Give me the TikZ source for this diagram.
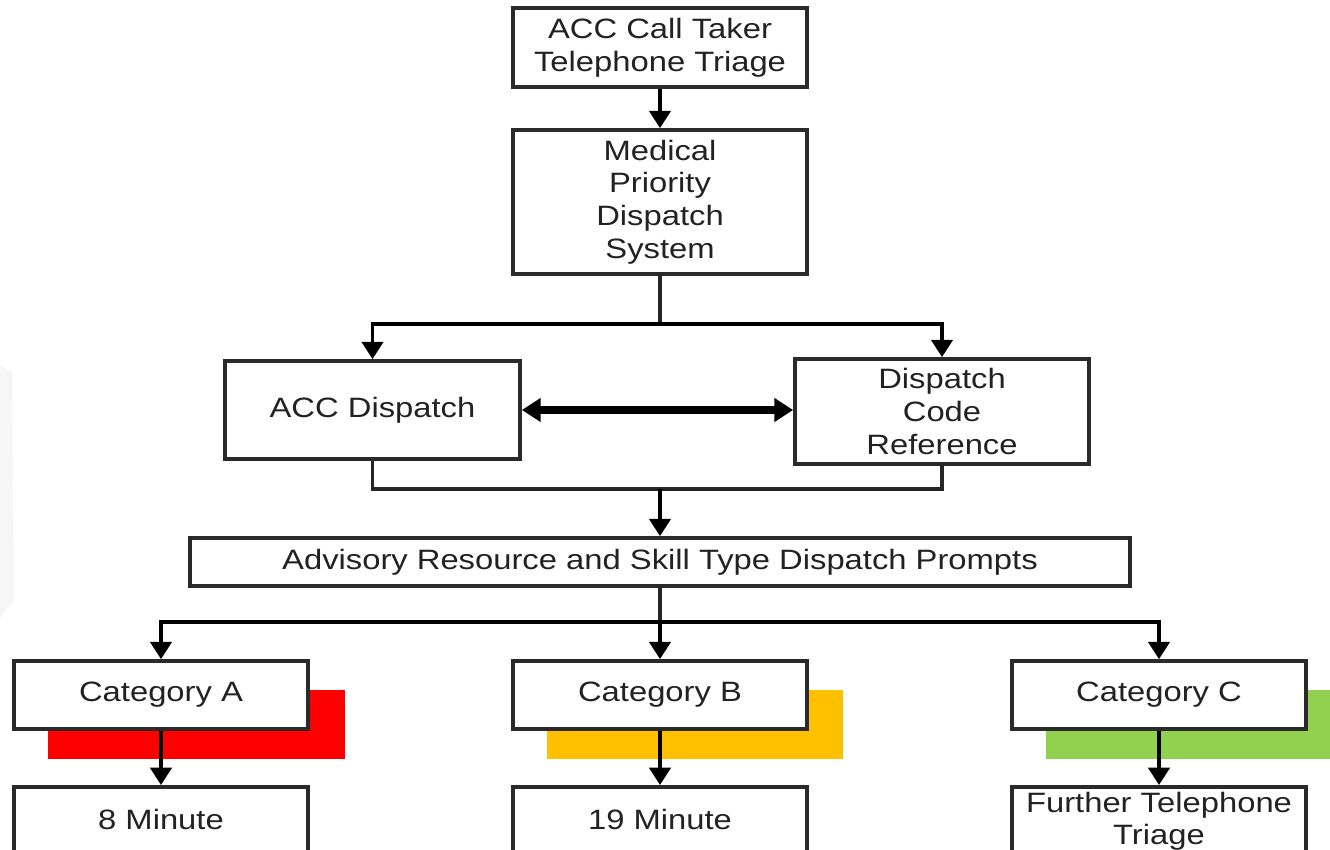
\documentclass[tikz,border=0pt]{standalone}
\usepackage{fontspec}
\setmainfont{Liberation Sans}[FakeStretch=1.17]
\usetikzlibrary{arrows.meta}
\newdimen\u
\u=0.75pt
\definecolor{catred}{HTML}{FF0000}
\definecolor{catamber}{HTML}{FFC000}
\definecolor{catgreen}{HTML}{92D050}
\definecolor{ink}{HTML}{222222}
\definecolor{edge}{HTML}{2A2A2A}
\begin{document}
\begin{tikzpicture}[x=0.75pt,y=-0.75pt,
  box/.style={draw=edge, line width=2.8pt, fill=white, align=center, inner sep=0pt,
    text=ink, font=\fontsize{21}{24.5}\selectfont},
  arr/.style={draw=black, line width=2.6pt, -{Triangle[width=16pt,length=13pt]}},
  ln/.style={draw=black!85, line width=2.6pt},
  dbl/.style={draw=black, line width=5.5pt, {Triangle[width=17pt,length=14pt]}-{Triangle[width=17pt,length=14pt]}}
]
\useasboundingbox (0,0) rectangle (1330,849);
\fill[white] (0,0) rectangle (1330,849);
% faint watermark at left
\fill[gray!7] (0,365) -- (12,372) -- (14,600) -- (0,618) -- cycle;

% coloured bands
\fill[catred]   (48,690) rectangle (345,759);
\fill[catamber] (547,690) rectangle (843,759);
\fill[catgreen] (1046,690) rectangle (1330,759);

% nodes
\node[box, minimum width=294\u, minimum height=79\u]  (call) at (660,47.5) {ACC Call Taker\\Telephone Triage};
\node[box, minimum width=294\u, minimum height=144\u] (mpds) at (660,202) {Medical\\Priority\\Dispatch\\System};
\node[box, minimum width=295\u, minimum height=98\u]  (accd) at (372.5,410) {ACC Dispatch};
\node[box, minimum width=294\u, minimum height=105\u] (dcr)  at (942,411.5) {Dispatch\\Code\\Reference};
\node[box, minimum width=940\u, minimum height=48\u]  (adv)  at (660,562) {Advisory Resource and Skill Type Dispatch Prompts};
\node[box, minimum width=294\u, minimum height=68\u]  (catA) at (161,695) {Category A};
\node[box, minimum width=294\u, minimum height=68\u]  (catB) at (660,695) {Category B};
\node[box, minimum width=294\u, minimum height=68\u]  (catC) at (1159,695) {Category C};
\node[box, minimum width=294\u, text height=43\u, text depth=57\u, anchor=north] (m8)  at (161,785) {8 Minute};
\node[box, minimum width=294\u, text height=43\u, text depth=57\u, anchor=north] (m19) at (660,785) {19 Minute};
\node[box, minimum width=294\u, text height=58\u, text depth=42\u, anchor=north] (ftt) at (1159,785) {Further Telephone\\Triage};

% junctions
\coordinate (j1) at (660,324);
\coordinate (j3) at (660,489);
\coordinate (j2) at (660,622);

% connectors
\draw[arr] (call) -- (mpds);
\draw[ln] (mpds.south) -- (j1);
\draw[arr] (j1) -| (accd.north);
\draw[arr] (j1) -| (dcr.north);
\draw[dbl] (accd.east) -- (accd.east -| dcr.west);
\draw[ln] (accd.south) |- (j3) -| (dcr.south);
\draw[arr] (j3) -- (adv.north);
\draw[ln] (adv.south) -- (j2);
\draw[arr] (j2) -| (catA.north);
\draw[arr] (j2) -- (catB.north);
\draw[arr] (j2) -| (catC.north);
\draw[arr] (catA) -- (m8);
\draw[arr] (catB) -- (m19);
\draw[arr] (catC) -- (ftt);
\end{tikzpicture}
\end{document}
